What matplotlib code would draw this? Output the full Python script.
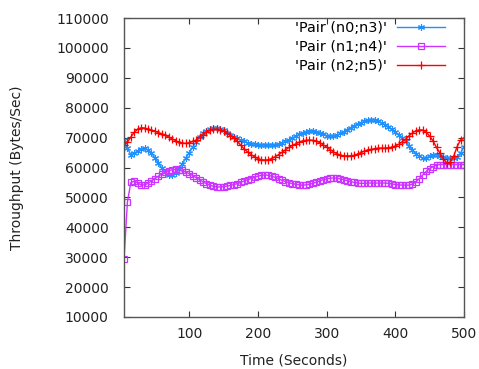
import matplotlib
matplotlib.use("Agg")
import matplotlib.pyplot as plt
import numpy as np

# Sample times (seconds)
time_s = list(range(5, 501, 5))

pair_n0_n3 = [
    69200, 66500, 64200, 64800, 65500, 66300, 66400, 65800, 64800, 63200,
    61500, 59800, 58500, 57600, 57500, 58200, 59500, 61200, 63200, 65000,
    66800, 68600, 70200, 71500, 72200, 72800, 73200, 73300, 73000, 72400,
    71700, 71000, 70300, 69700, 69200, 68700, 68300, 68000, 67800, 67600,
    67500, 67500, 67500, 67500, 67600, 67900, 68300, 68700, 69300, 69900,
    70500, 71100, 71500, 71800, 72100, 72200, 72000, 71600, 71100, 70700,
    70400, 70400, 70800, 71400, 72000, 72700, 73300, 73900, 74500, 75000,
    75400, 75800, 75900, 75800, 75400, 75000, 74300, 73600, 72800, 71900,
    70900, 69800, 68700, 67200, 65800, 64600, 63700, 63200, 63300, 63700,
    64100, 64200, 63900, 63500, 63300, 63200, 63200, 63600, 64800, 67000,
]

pair_n1_n4 = [
    29400, 48500, 55000, 55400, 54900, 54100, 54200, 54700, 55500, 56300,
    57100, 57800, 58400, 58900, 59200, 59400, 59300, 59000, 58500, 57900,
    57300, 56600, 55900, 55200, 54600, 54100, 53700, 53500, 53500, 53600,
    53800, 54000, 54300, 54600, 55000, 55500, 55900, 56300, 56700, 57100,
    57400, 57500, 57400, 57100, 56700, 56200, 55700, 55300, 54900, 54600,
    54400, 54200, 54100, 54200, 54400, 54700, 55100, 55500, 55900, 56200,
    56400, 56500, 56400, 56200, 55900, 55600, 55300, 55000, 54800, 54700,
    54700, 54800, 54800, 54800, 54800, 54800, 54800, 54700, 54500, 54300,
    54200, 54100, 54100, 54100, 54400, 55200, 56300, 57500, 58700, 59600,
    60300, 60800, 61000, 61000, 61000, 61000, 61000, 61000, 61000, 61000,
]

pair_n2_n5 = [
    67500, 68500, 70200, 71800, 72800, 73300, 73200, 72800, 72400, 72100,
    71700, 71300, 70800, 70200, 69600, 69000, 68400, 68100, 68100, 68300,
    68700, 69200, 70200, 71000, 71800, 72400, 72800, 72900, 72600, 72200,
    71500, 70700, 69800, 68700, 67400, 66200, 65200, 64300, 63600, 63000,
    62600, 62500, 62600, 63000, 63600, 64300, 65100, 65900, 66700, 67400,
    67900, 68500, 68900, 69100, 69200, 69100, 68800, 68300, 67600, 66800,
    66000, 65200, 64600, 64100, 63900, 63900, 63900, 64100, 64500, 65000,
    65500, 65900, 66100, 66300, 66500, 66500, 66500, 66600, 66800, 67200,
    67800, 68600, 69500, 70600, 71600, 72300, 72600, 72500, 71800, 70500,
    68800, 66700, 64800, 62800, 61500, 61800, 63800, 67000, 69200, 69900,
]

labels = ["'Pair (n0;n3)'", "'Pair (n1;n4)'", "'Pair (n2;n5)'"]
colors = ["#1e90ff", "#cc33ff", "#ff0000"]

x_ticks = [100, 200, 300, 400, 500]
y_ticks = list(range(10000, 110001, 10000))

plt.rcParams["font.family"] = ["DejaVu Sans"]

fig = plt.figure(figsize=(4.79, 3.69), dpi=100)
ax = fig.add_axes([124 / 479, 52 / 369, 340 / 479, 299 / 369])

ax.plot(time_s, pair_n0_n3, color=colors[0], lw=1, marker=(6, 2, 0),
        ms=5, mew=0.8, label=labels[0])
ax.plot(time_s, pair_n1_n4, color=colors[1], lw=1, marker="s",
        ms=4.5, mfc="none", mew=0.9, label=labels[1])
ax.plot(time_s, pair_n2_n5, color=colors[2], lw=1, marker="+",
        ms=6, mew=0.9, label=labels[2])

ax.set_xlim(5, 500)
ax.set_ylim(10000, 110000)
ax.set_xticks(x_ticks)
ax.set_yticks(y_ticks)
ax.tick_params(direction="in", length=4, width=0.8, colors="#333333",
               labelcolor="#222222", labelsize=10, top=True, right=True)
ax.tick_params(axis="x", labeltop=False, pad=7.5)
ax.tick_params(axis="y", pad=11)
for sp in ax.spines.values():
    sp.set_color("#555555")
    sp.set_linewidth(1)

ax.set_xlabel("Time (Seconds)", fontsize=10, color="#222222", labelpad=8.5)
ax.set_ylabel("Throughput (Bytes/Sec)", fontsize=10, color="#222222", labelpad=23)

leg = ax.legend(loc="upper right", frameon=False, markerfirst=False,
                prop={"size": 10.4}, handlelength=3.3, handletextpad=0.7,
                labelspacing=0.36, borderaxespad=0.2,
                bbox_to_anchor=(0.97, 1.02))

fig.savefig("out.png", dpi=100)
